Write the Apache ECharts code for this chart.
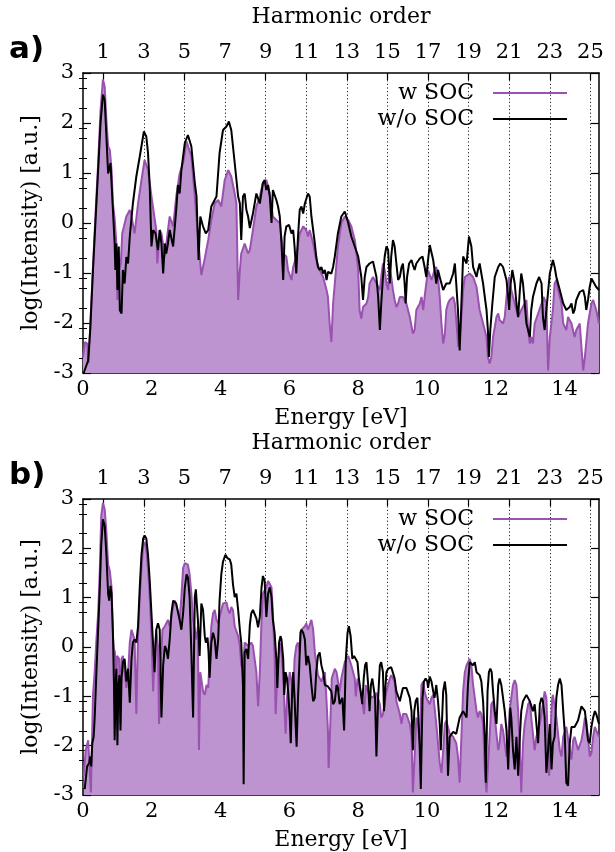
<!DOCTYPE html>
<html>
<head>
<meta charset="utf-8">
<script src="https://cdn.jsdelivr.net/npm/echarts@6/dist/echarts.min.js"></script>
<style>
  html, body { margin: 0; padding: 0; background: #fff; }
  #chart { width: 615px; height: 852px; }
</style>
</head>
<body>
<div id="chart"></div>
<script>
// High-harmonic spectra, log10 intensity versus photon energy (eV),
// computed with and without spin-orbit coupling, for two cases a) and b).

const photonEnergy = 0.59;            // driving photon energy in eV (harmonic 1)
const harmonicLabels = [1, 3, 5, 7, 9, 11, 13, 15, 17, 19, 21, 23, 25];
const seriesNames = ['w SOC', 'w/o SOC'];

// ---- panel a) ----
const aWithSOC = [[0.0,-2.68],[0.06,-2.38],[0.12,-2.41],[0.16,-2.81],[0.21,-2.08],[0.29,-0.88],[0.37,0.26],[0.44,1.2],[0.51,2.26],[0.58,2.87],[0.63,2.73],[0.68,2.06],[0.73,1.53],[0.78,1.46],[0.83,1.06],[0.87,0.39],[0.92,0.09],[0.95,0.06],[0.97,-0.41],[1.00,-1.54],[1.05,-0.94],[1.10,-0.81],[1.14,-0.21],[1.19,-0.07],[1.26,0.13],[1.36,0.26],[1.41,0.13],[1.50,-0.21],[1.60,0.39],[1.70,0.86],[1.79,1.26],[1.89,1.06],[1.99,0.53],[2.04,0.53],[2.13,-0.14],[2.16,-0.81],[2.23,-0.14],[2.28,-0.21],[2.38,-0.67],[2.47,-0.14],[2.52,0.13],[2.62,-0.07],[2.71,0.53],[2.81,0.99],[2.91,1.2],[3.01,1.63],[3.05,1.66],[3.15,1.33],[3.25,0.53],[3.34,-0.27],[3.44,-1.04],[3.54,-0.71],[3.64,-0.34],[3.73,0.06],[3.83,0.39],[3.93,0.46],[4.02,0.33],[4.12,0.86],[4.22,1.06],[4.31,0.93],[4.41,0.59],[4.46,0.39],[4.51,-1.54],[4.56,-0.94],[4.60,-0.61],[4.70,-0.41],[4.80,-0.61],[4.85,-0.54],[4.94,-0.14],[5.04,0.33],[5.14,0.53],[5.23,0.80],[5.33,0.86],[5.38,0.73],[5.43,0.59],[5.52,0.13],[5.62,0.06],[5.72,0.0],[5.82,-0.61],[5.91,-0.67],[5.96,-0.94],[6.06,-1.14],[6.11,-0.88],[6.20,-0.67],[6.30,-0.21],[6.40,-0.07],[6.49,-0.14],[6.54,-0.27],[6.59,-0.14],[6.69,-0.41],[6.78,-0.74],[6.88,-0.94],[6.98,-1.08],[7.08,-1.34],[7.12,-1.48],[7.17,-2.01],[7.22,-2.38],[7.27,-1.61],[7.32,-1.21],[7.41,-0.47],[7.51,0.0],[7.61,0.13],[7.71,0.06],[7.80,-0.07],[7.90,-0.34],[7.95,-0.61],[8.00,-0.94],[8.04,-1.74],[8.09,-1.91],[8.14,-1.68],[8.24,-1.61],[8.29,-1.48],[8.33,-1.21],[8.43,-1.08],[8.53,-1.21],[8.63,-1.34],[8.67,-1.08],[8.72,-0.81],[8.77,-0.94],[8.82,-1.21],[8.87,-1.34],[8.92,-0.94],[8.96,-1.08],[9.01,-1.34],[9.06,-1.54],[9.11,-1.68],[9.16,-1.61],[9.21,-1.48],[9.30,-1.48],[9.40,-1.61],[9.50,-1.88],[9.59,-2.21],[9.64,-2.14],[9.69,-1.74],[9.79,-1.61],[9.84,-1.48],[9.89,-1.74],[9.93,-1.48],[9.98,-1.21],[10.03,-0.94],[10.08,-0.94],[10.13,-1.14],[10.22,-0.94],[10.27,-0.88],[10.32,-1.08],[10.37,-1.48],[10.42,-2.01],[10.47,-2.41],[10.52,-2.21],[10.56,-1.74],[10.61,-1.61],[10.66,-1.54],[10.76,-1.48],[10.81,-1.61],[10.85,-1.94],[10.91,-2.48],[10.95,-2.28],[11.00,-1.88],[11.05,-1.34],[11.10,-1.08],[11.15,-1.08],[11.24,-1.01],[11.34,-1.08],[11.44,-1.28],[11.53,-1.74],[11.63,-2.01],[11.73,-2.28],[11.77,-2.68],[11.82,-2.81],[11.87,-2.68],[11.92,-2.28],[12.02,-1.88],[12.07,-1.81],[12.11,-1.94],[12.21,-2.01],[12.26,-1.88],[12.33,-1.34],[12.39,-1.08],[12.45,-1.34],[12.55,-1.61],[12.65,-1.88],[12.74,-1.74],[12.89,-1.54],[12.94,-2.14],[12.99,-2.41],[13.03,-2.28],[13.08,-2.41],[13.13,-2.01],[13.23,-1.81],[13.33,-1.61],[13.39,-1.48],[13.47,-1.61],[13.52,-2.95],[13.57,-2.28],[13.66,-1.74],[13.71,-1.21],[13.76,-1.14],[13.81,-1.34],[13.91,-1.61],[13.96,-2.01],[14.05,-2.14],[14.10,-1.88],[14.20,-2.01],[14.29,-2.28],[14.34,-2.14],[14.44,-2.01],[14.54,-2.95],[14.59,-2.68],[14.68,-2.01],[14.78,-1.61],[14.83,-1.54],[14.88,-1.54],[14.92,-1.74],[15.0,-2.01]];

const aWithoutSOC = [[0.02,-3.0],[0.15,-2.75],[0.21,-2.14],[0.29,-0.94],[0.37,0.13],[0.44,1.06],[0.51,2.0],[0.58,2.57],[0.63,2.46],[0.68,1.73],[0.73,0.99],[0.80,1.20],[0.87,0.26],[0.92,-0.41],[0.94,-0.94],[0.97,-0.41],[1.00,-1.34],[1.04,-0.47],[1.07,-1.74],[1.12,-1.81],[1.16,-0.94],[1.21,-1.21],[1.26,-0.68],[1.31,-0.81],[1.36,-0.27],[1.45,0.39],[1.55,0.93],[1.65,1.33],[1.77,1.83],[1.84,1.73],[1.89,1.40],[1.94,0.73],[1.99,-0.47],[2.04,-0.14],[2.11,-0.21],[2.18,-0.54],[2.23,-0.14],[2.28,-0.41],[2.33,-1.01],[2.38,-0.41],[2.42,-0.61],[2.47,-0.41],[2.52,-0.14],[2.62,-0.47],[2.71,0.26],[2.76,0.76],[2.81,0.59],[2.86,1.06],[2.96,1.60],[3.05,1.76],[3.15,1.53],[3.25,0.80],[3.30,0.53],[3.36,-0.74],[3.41,0.13],[3.49,-0.07],[3.57,-0.21],[3.64,-0.14],[3.73,0.33],[3.88,0.53],[3.97,1.40],[4.07,1.86],[4.17,1.93],[4.24,2.03],[4.31,1.86],[4.41,1.20],[4.51,0.53],[4.56,0.39],[4.60,-0.34],[4.65,0.53],[4.70,0.59],[4.75,0.26],[4.80,0.13],[4.85,-0.10],[4.89,-0.14],[4.94,0.19],[5.04,0.59],[5.14,0.39],[5.23,0.80],[5.28,0.86],[5.33,0.66],[5.38,0.76],[5.43,0.53],[5.48,0.0],[5.52,0.66],[5.57,0.69],[5.62,0.46],[5.67,0.33],[5.72,0.13],[5.77,-0.41],[5.82,-1.14],[5.86,-0.27],[5.91,-0.07],[5.99,-0.04],[6.06,-0.21],[6.11,-0.14],[6.15,-0.47],[6.20,-1.01],[6.25,-0.27],[6.30,0.26],[6.35,0.33],[6.40,0.19],[6.45,0.39],[6.54,0.59],[6.59,0.53],[6.64,0.13],[6.69,-0.14],[6.74,-0.41],[6.78,-0.67],[6.83,-0.88],[6.88,-0.94],[6.93,-0.88],[6.98,-1.01],[7.03,-0.94],[7.08,-1.14],[7.12,-0.98],[7.17,-0.94],[7.22,-1.01],[7.27,-0.88],[7.32,-0.67],[7.41,-0.21],[7.51,0.13],[7.61,0.23],[7.71,0.0],[7.80,-0.27],[7.90,-0.47],[8.00,-0.67],[8.09,-1.08],[8.14,-1.54],[8.19,-1.08],[8.24,-0.88],[8.33,-0.81],[8.43,-0.77],[8.53,-1.08],[8.58,-1.48],[8.63,-2.14],[8.67,-1.61],[8.72,-1.08],[8.77,-0.67],[8.82,-0.47],[8.87,-0.54],[8.92,-1.21],[8.96,-0.67],[9.01,-0.34],[9.06,-0.47],[9.11,-0.81],[9.16,-1.14],[9.21,-1.08],[9.26,-0.88],[9.30,-0.81],[9.35,-1.21],[9.38,-1.61],[9.42,-1.08],[9.48,-0.81],[9.55,-0.74],[9.59,-0.84],[9.64,-0.94],[9.69,-0.81],[9.79,-0.71],[9.87,-0.67],[9.93,-0.88],[9.98,-1.08],[10.03,-0.74],[10.08,-0.44],[10.18,-0.74],[10.27,-1.21],[10.32,-0.94],[10.37,-1.08],[10.47,-1.34],[10.56,-1.21],[10.66,-1.21],[10.76,-1.01],[10.81,-0.81],[10.85,-1.21],[10.90,-1.74],[10.95,-2.55],[11.00,-1.61],[11.05,-0.67],[11.10,-0.67],[11.15,-0.81],[11.22,-0.27],[11.29,-0.47],[11.34,-0.88],[11.44,-1.08],[11.48,-0.94],[11.53,-0.81],[11.58,-1.01],[11.63,-1.21],[11.68,-1.48],[11.73,-1.74],[11.77,-2.14],[11.80,-2.68],[11.84,-2.14],[11.90,-1.61],[11.97,-1.08],[12.07,-0.88],[12.13,-0.81],[12.21,-0.88],[12.31,-1.14],[12.36,-1.48],[12.39,-1.74],[12.42,-1.28],[12.48,-0.94],[12.55,-1.21],[12.60,-1.61],[12.65,-1.88],[12.70,-1.34],[12.74,-1.01],[12.79,-1.21],[12.84,-1.61],[12.89,-2.01],[12.99,-2.28],[13.03,-1.74],[13.08,-1.48],[13.18,-1.21],[13.26,-1.08],[13.33,-1.21],[13.37,-1.88],[13.42,-2.14],[13.47,-1.74],[13.57,-1.01],[13.66,-0.74],[13.71,-0.88],[13.76,-1.08],[13.86,-1.34],[13.96,-1.61],[14.05,-1.74],[14.15,-1.68],[14.20,-1.61],[14.25,-1.81],[14.29,-1.74],[14.34,-1.54],[14.44,-1.38],[14.54,-1.34],[14.59,-1.48],[14.63,-1.74],[14.68,-1.54],[14.73,-1.28],[14.78,-1.11],[14.83,-1.14],[14.92,-1.28],[15.0,-1.34]];

// ---- panel b) ----
const bWithSOC = [[0.02,-2.61],[0.08,-2.09],[0.15,-1.89],[0.20,-1.92],[0.23,-2.95],[0.26,-2.95],[0.29,-0.97],[0.34,-0.51],[0.39,0.15],[0.44,0.68],[0.49,1.6],[0.53,2.66],[0.58,2.92],[0.63,2.79],[0.68,2.33],[0.73,1.67],[0.78,1.54],[0.83,1.21],[0.87,0.22],[0.90,-0.04],[0.93,-0.11],[0.95,-0.90],[0.99,-0.18],[1.05,-0.24],[1.09,-1.56],[1.12,-0.24],[1.16,-0.18],[1.21,-0.51],[1.26,-0.83],[1.31,-0.57],[1.36,0.09],[1.41,0.35],[1.45,0.38],[1.50,0.15],[1.55,-1.36],[1.60,0.22],[1.65,1.01],[1.70,1.6],[1.75,2.06],[1.79,2.13],[1.84,1.97],[1.89,1.6],[1.94,1.01],[1.99,0.22],[2.04,-0.90],[2.08,-0.11],[2.13,0.35],[2.18,0.02],[2.21,-1.56],[2.25,-0.51],[2.31,0.35],[2.38,0.42],[2.47,0.55],[2.52,0.42],[2.62,0.81],[2.67,0.94],[2.71,0.85],[2.81,0.55],[2.86,1.01],[2.91,1.6],[2.96,1.7],[3.01,1.73],[3.05,1.67],[3.10,1.47],[3.15,1.08],[3.20,0.55],[3.25,0.55],[3.30,0.15],[3.34,0.42],[3.37,-2.09],[3.41,-0.51],[3.45,-0.51],[3.49,-0.90],[3.54,-0.97],[3.59,-0.77],[3.64,-0.83],[3.68,-0.24],[3.73,0.42],[3.78,0.68],[3.83,0.75],[3.88,0.55],[3.93,0.48],[3.97,0.61],[4.07,0.88],[4.17,0.91],[4.22,0.75],[4.27,0.68],[4.31,0.81],[4.36,0.75],[4.41,0.42],[4.51,0.22],[4.56,0.02],[4.60,-0.37],[4.65,-0.44],[4.70,0.09],[4.75,0.12],[4.80,0.02],[4.89,0.09],[4.94,0.02],[5.04,-0.51],[5.09,-1.20],[5.14,-0.51],[5.19,0.55],[5.23,1.08],[5.33,1.21],[5.38,1.34],[5.43,1.37],[5.48,1.21],[5.52,0.68],[5.57,-0.18],[5.60,-1.36],[5.65,-0.51],[5.72,0.09],[5.77,-0.11],[5.82,-0.57],[5.86,-1.30],[5.89,-1.76],[5.93,-1.03],[6.01,-0.51],[6.06,-0.70],[6.11,-1.03],[6.15,-0.24],[6.20,0.02],[6.25,0.09],[6.30,-0.11],[6.35,0.35],[6.45,0.42],[6.49,0.48],[6.54,0.35],[6.64,0.55],[6.69,0.35],[6.74,-0.11],[6.83,-0.57],[6.93,-0.70],[7.03,-0.51],[7.08,-1.10],[7.12,-1.69],[7.14,-2.45],[7.19,-1.56],[7.23,-0.64],[7.32,-0.44],[7.37,-0.51],[7.46,-0.90],[7.51,-0.64],[7.61,-0.31],[7.71,-0.18],[7.80,-0.37],[7.90,-0.64],[7.93,-1.00],[7.98,-0.64],[8.07,-0.90],[8.12,-1.10],[8.17,-1.36],[8.22,-0.77],[8.32,-0.97],[8.41,-1.03],[8.53,-0.93],[8.63,-1.16],[8.67,-1.43],[8.72,-1.36],[8.82,-0.90],[8.92,-0.64],[8.96,-0.57],[9.06,-0.70],[9.11,-1.10],[9.21,-1.36],[9.26,-1.56],[9.30,-1.36],[9.40,-1.36],[9.50,-1.56],[9.55,-1.82],[9.59,-2.95],[9.64,-2.22],[9.69,-1.43],[9.74,-1.56],[9.79,-1.95],[9.84,-0.77],[9.89,-0.70],[9.93,-0.90],[9.98,-1.03],[10.03,-1.10],[10.08,-1.16],[10.13,-1.03],[10.18,-0.97],[10.22,-1.23],[10.27,-1.56],[10.32,-1.95],[10.37,-2.35],[10.42,-2.55],[10.47,-2.09],[10.52,-1.56],[10.56,-1.49],[10.66,-1.76],[10.76,-1.82],[10.85,-1.95],[10.90,-2.22],[10.95,-2.75],[11.00,-1.82],[11.05,-0.90],[11.10,-0.51],[11.15,-0.37],[11.24,-0.24],[11.29,-0.37],[11.34,-0.77],[11.39,-1.03],[11.44,-1.30],[11.48,-1.43],[11.53,-1.30],[11.58,-1.36],[11.63,-1.56],[11.68,-2.48],[11.73,-2.95],[11.77,-2.95],[11.82,-1.82],[11.87,-1.16],[11.92,-1.10],[11.97,-1.43],[12.07,-2.09],[12.11,-1.95],[12.16,-1.56],[12.21,-1.69],[12.31,-2.22],[12.36,-1.82],[12.40,-1.30],[12.45,-1.03],[12.50,-0.77],[12.55,-0.67],[12.60,-0.77],[12.65,-1.30],[12.70,-2.09],[12.74,-2.95],[12.79,-1.95],[12.84,-1.56],[12.94,-1.16],[12.99,-1.10],[13.03,-1.43],[13.13,-2.09],[13.18,-1.82],[13.28,-1.56],[13.37,-1.16],[13.42,-0.90],[13.47,-1.03],[13.52,-2.09],[13.55,-2.61],[13.60,-1.56],[13.64,-1.03],[13.66,-0.97],[13.76,-1.43],[13.86,-2.09],[13.91,-2.22],[13.96,-1.82],[14.05,-1.62],[14.15,-2.09],[14.20,-2.28],[14.25,-1.89],[14.29,-1.82],[14.39,-2.09],[14.49,-1.89],[14.54,-1.69],[14.59,-1.43],[14.63,-1.49],[14.68,-1.82],[14.73,-2.22],[14.78,-2.15],[14.83,-1.82],[14.88,-1.62],[14.92,-1.69],[15.0,-1.82]];

const bWithoutSOC = [[0.05,-2.88],[0.12,-2.42],[0.18,-2.35],[0.21,-2.22],[0.24,-2.42],[0.27,-1.95],[0.31,-1.82],[0.34,-1.43],[0.39,-0.51],[0.44,0.35],[0.49,1.21],[0.53,2.06],[0.58,2.59],[0.63,2.46],[0.68,1.87],[0.73,1.08],[0.76,0.94],[0.80,1.24],[0.83,1.08],[0.87,0.29],[0.90,-0.77],[0.92,-1.89],[0.95,-0.77],[0.97,-0.44],[1.00,-1.99],[1.03,-0.77],[1.06,-0.57],[1.09,-1.69],[1.12,-0.64],[1.16,-0.31],[1.21,-0.24],[1.26,-0.70],[1.31,-0.44],[1.36,-1.13],[1.41,-0.24],[1.45,0.09],[1.50,0.15],[1.55,0.09],[1.60,0.42],[1.65,1.21],[1.70,1.87],[1.75,2.2],[1.79,2.26],[1.84,2.2],[1.89,1.87],[1.94,1.34],[1.99,0.68],[2.04,0.02],[2.08,-0.51],[2.13,0.35],[2.18,0.48],[2.23,0.35],[2.28,-1.43],[2.33,-0.37],[2.38,0.02],[2.42,-0.04],[2.47,-0.24],[2.52,0.15],[2.57,0.68],[2.62,0.94],[2.71,0.88],[2.81,0.55],[2.86,0.35],[2.91,0.68],[2.96,1.21],[3.01,1.47],[3.05,1.41],[3.10,1.01],[3.15,-0.11],[3.20,-1.43],[3.25,1.01],[3.28,1.17],[3.34,0.55],[3.39,-0.18],[3.44,0.88],[3.49,0.75],[3.54,0.22],[3.57,0.09],[3.62,0.19],[3.65,-0.11],[3.68,-0.62],[3.73,0.09],[3.78,0.29],[3.83,0.15],[3.88,-0.24],[3.93,0.15],[3.97,0.94],[4.02,1.47],[4.07,1.73],[4.14,1.87],[4.20,1.8],[4.27,1.77],[4.31,1.67],[4.36,1.27],[4.41,1.01],[4.46,1.08],[4.51,0.75],[4.56,0.35],[4.60,0.09],[4.65,-0.77],[4.67,-2.78],[4.70,-0.11],[4.75,-0.04],[4.80,-0.24],[4.85,0.45],[4.89,0.68],[4.94,0.75],[4.99,0.73],[5.04,0.58],[5.09,0.40],[5.14,0.61],[5.19,1.21],[5.23,1.44],[5.28,1.34],[5.33,0.61],[5.38,1.08],[5.43,1.21],[5.48,1.01],[5.52,0.55],[5.57,0.29],[5.62,-0.24],[5.65,-0.83],[5.70,0.09],[5.74,0.22],[5.77,0.15],[5.82,-0.24],[5.85,-0.97],[5.89,-0.51],[5.93,-0.64],[5.97,-0.97],[6.01,-1.43],[6.04,-1.95],[6.08,-0.90],[6.11,-0.51],[6.15,-1.03],[6.18,-1.56],[6.21,-2.02],[6.25,-1.03],[6.28,-0.51],[6.32,0.29],[6.35,0.35],[6.40,0.29],[6.45,0.15],[6.49,-0.37],[6.54,-0.18],[6.59,-0.37],[6.64,-0.77],[6.69,-1.10],[6.74,-1.03],[6.78,-0.51],[6.83,-0.18],[6.88,-0.11],[6.93,-0.37],[6.98,-0.51],[7.03,-0.77],[7.12,-0.80],[7.22,-0.90],[7.27,-1.16],[7.32,-1.10],[7.37,-0.77],[7.41,-0.83],[7.46,-1.16],[7.54,-1.03],[7.59,-1.69],[7.64,-0.24],[7.69,0.29],[7.73,0.42],[7.78,0.22],[7.83,-0.24],[7.88,-0.18],[7.93,-0.14],[7.98,-0.31],[8.02,-0.64],[8.07,-0.90],[8.12,-1.16],[8.16,-0.64],[8.20,-0.37],[8.24,-0.31],[8.29,-0.77],[8.33,-1.30],[8.37,-0.77],[8.41,-0.64],[8.45,-0.64],[8.49,-1.03],[8.53,-2.22],[8.58,-1.03],[8.63,-0.37],[8.67,-0.31],[8.72,-0.51],[8.75,-1.30],[8.79,-0.83],[8.82,-0.51],[8.87,-0.44],[8.96,-0.41],[9.01,-0.44],[9.06,-0.64],[9.11,-0.90],[9.21,-1.10],[9.30,-0.83],[9.40,-0.83],[9.50,-1.03],[9.55,-1.30],[9.59,-2.09],[9.63,-1.30],[9.67,-1.10],[9.72,-1.03],[9.75,-1.43],[9.79,-2.09],[9.82,-2.88],[9.87,-1.03],[9.91,-0.70],[9.96,-0.64],[10.01,-0.70],[10.03,-0.83],[10.08,-0.60],[10.13,-0.70],[10.18,-0.90],[10.22,-1.03],[10.27,-0.77],[10.32,-1.10],[10.37,-1.56],[10.40,-2.09],[10.44,-1.43],[10.47,-0.90],[10.52,-0.70],[10.56,-0.97],[10.61,-2.61],[10.66,-1.82],[10.76,-1.72],[10.85,-1.76],[10.95,-1.43],[11.05,-1.30],[11.15,-1.43],[11.19,-0.77],[11.24,-0.31],[11.29,-0.31],[11.34,-0.37],[11.39,-0.31],[11.44,-0.51],[11.53,-0.57],[11.58,-0.70],[11.63,-1.10],[11.68,-1.82],[11.71,-2.75],[11.76,-0.90],[11.80,-0.51],[11.84,-0.44],[11.88,-0.51],[11.92,-0.90],[11.97,-1.30],[12.02,-1.56],[12.07,-0.77],[12.11,-0.64],[12.16,-0.77],[12.21,-1.03],[12.26,-1.30],[12.31,-1.69],[12.36,-2.48],[12.39,-1.82],[12.42,-1.23],[12.45,-1.43],[12.50,-2.09],[12.55,-2.48],[12.60,-1.82],[12.65,-2.61],[12.70,-1.82],[12.74,-1.30],[12.79,-1.10],[12.89,-0.97],[12.99,-1.10],[13.08,-1.30],[13.13,-1.16],[13.18,-1.56],[13.23,-1.95],[13.28,-1.16],[13.33,-1.03],[13.37,-1.10],[13.42,-1.43],[13.47,-2.55],[13.52,-2.09],[13.57,-1.56],[13.62,-2.48],[13.66,-1.95],[13.71,-1.82],[13.76,-1.03],[13.81,-0.77],[13.86,-0.64],[13.91,-0.77],[13.96,-1.30],[14.00,-1.69],[14.05,-2.75],[14.10,-2.81],[14.15,-1.95],[14.20,-1.62],[14.29,-1.62],[14.39,-1.49],[14.49,-1.20],[14.54,-1.16],[14.59,-1.30],[14.63,-1.56],[14.68,-1.89],[14.73,-1.95],[14.78,-1.62],[14.83,-1.43],[14.88,-1.30],[14.92,-1.36],[15.0,-1.56]];

// ---- styling ----
const FONT = 'DejaVu Serif';
const PURPLE_LINE = '#9a52b0';
const PURPLE_FILL = '#bd94cf';
const INK = '#000';

const panels = [
  { label: 'a)', top: 73, height: 300, soc: aWithSOC, noSoc: aWithoutSOC },
  { label: 'b)', top: 499, height: 304, soc: bWithSOC, noSoc: bWithoutSOC }
];

// minor ticks on the intensity axis (inside, shorter than the unit ticks)
const minorY = [];
for (let n = -3; n < 3; n++) {
  [0.3, 0.7, 0.9].forEach(f => minorY.push(+(n + f).toFixed(2)));
}

const grid = [], xAxis = [], yAxis = [], series = [], legend = [], graphic = [];

panels.forEach((p, i) => {
  grid.push({ left: 83, right: 16, top: p.top, height: p.height, containLabel: false });

  // energy axis (bottom)
  xAxis.push({
    type: 'value', gridIndex: i, position: 'bottom', min: 0, max: 15, interval: 2,
    name: 'Energy [eV]', nameLocation: 'middle', nameGap: 34,
    nameTextStyle: { fontFamily: FONT, fontSize: 22, color: INK },
    axisLine: { show: true, onZero: false, lineStyle: { color: INK, width: 1.5 } },
    axisTick: { show: true, inside: true, length: 7, lineStyle: { color: INK, width: 1.2 } },
    axisLabel: { fontFamily: FONT, fontSize: 21, color: INK, margin: 6, showMaxLabel: false },
    splitLine: { show: false }
  });
  // harmonic order axis (top)
  xAxis.push({
    type: 'value', gridIndex: i, position: 'top', min: 0, max: 15 / photonEnergy, interval: 1,
    name: 'Harmonic order', nameLocation: 'middle', nameGap: 45,
    nameTextStyle: { fontFamily: FONT, fontSize: 22, color: INK },
    axisLine: { show: true, onZero: false, lineStyle: { color: INK, width: 1.5 } },
    axisTick: { show: true, inside: true, length: 7, customValues: harmonicLabels,
                lineStyle: { color: INK, width: 1.2 } },
    axisLabel: { fontFamily: FONT, fontSize: 21, color: INK, margin: 10, customValues: harmonicLabels },
    splitLine: { show: true, lineStyle: { color: '#222', width: 1, type: [1.2, 2.4] } }
  });

  const yBase = {
    type: 'value', gridIndex: i, min: -3, max: 3, interval: 1,
    axisLine: { show: true, onZero: false, lineStyle: { color: INK, width: 1.5 } },
    splitLine: { show: false }
  };
  yAxis.push(Object.assign({}, yBase, {
    position: 'left',
    name: 'log(Intensity) [a.u.]', nameLocation: 'middle', nameGap: 33,
    nameTextStyle: { fontFamily: FONT, fontSize: 22, color: INK },
    axisTick: { show: true, inside: true, length: 8, lineStyle: { color: INK, width: 1.2 } },
    axisLabel: { fontFamily: FONT, fontSize: 21, color: INK, margin: 9 }
  }));
  yAxis.push(Object.assign({}, yBase, {
    position: 'right',
    axisTick: { show: true, inside: true, length: 8, lineStyle: { color: INK, width: 1.2 } },
    axisLabel: { show: false }
  }));
  yAxis.push(Object.assign({}, yBase, {
    position: 'left', axisLine: { show: false },
    axisTick: { show: true, inside: true, length: 4, customValues: minorY, lineStyle: { color: INK, width: 1 } },
    axisLabel: { show: false }
  }));
  yAxis.push(Object.assign({}, yBase, {
    position: 'right', axisLine: { show: false },
    axisTick: { show: true, inside: true, length: 4, customValues: minorY, lineStyle: { color: INK, width: 1 } },
    axisLabel: { show: false }
  }));

  series.push({
    name: seriesNames[0], type: 'line', xAxisIndex: 2 * i, yAxisIndex: 4 * i,
    data: p.soc, symbol: 'none', smooth: false, clip: true, z: 2,
    lineStyle: { color: PURPLE_LINE, width: 2 },
    itemStyle: { color: PURPLE_LINE },
    areaStyle: { color: PURPLE_FILL, opacity: 1, origin: 'start' }
  });
  series.push({
    name: seriesNames[1], type: 'line', xAxisIndex: 2 * i, yAxisIndex: 4 * i,
    data: p.noSoc, symbol: 'none', smooth: false, clip: true, z: 3,
    lineStyle: { color: INK, width: 2 },
    itemStyle: { color: INK }
  });

  legend.push({
    data: seriesNames, orient: 'vertical', align: 'right',
    right: 43, top: p.top + 4, itemWidth: 74, itemHeight: 14, itemGap: 4,
    icon: 'path://M0,6 L74,6 L74,8 L0,8 Z',
    textStyle: { fontFamily: FONT, fontSize: 22, color: INK, padding: [0, 14, 0, 0] },
    selectedMode: false
  });

  graphic.push({
    type: 'text', left: 9, top: p.top - 39,
    style: { text: p.label, font: 'bold 31px "DejaVu Sans"', fill: INK }
  });
});

const chart = echarts.init(document.getElementById('chart'), null, { renderer: 'canvas' });
chart.setOption({
  animation: false,
  backgroundColor: '#fff',
  grid, xAxis, yAxis, series, legend, graphic
});
</script>
</body>
</html>
